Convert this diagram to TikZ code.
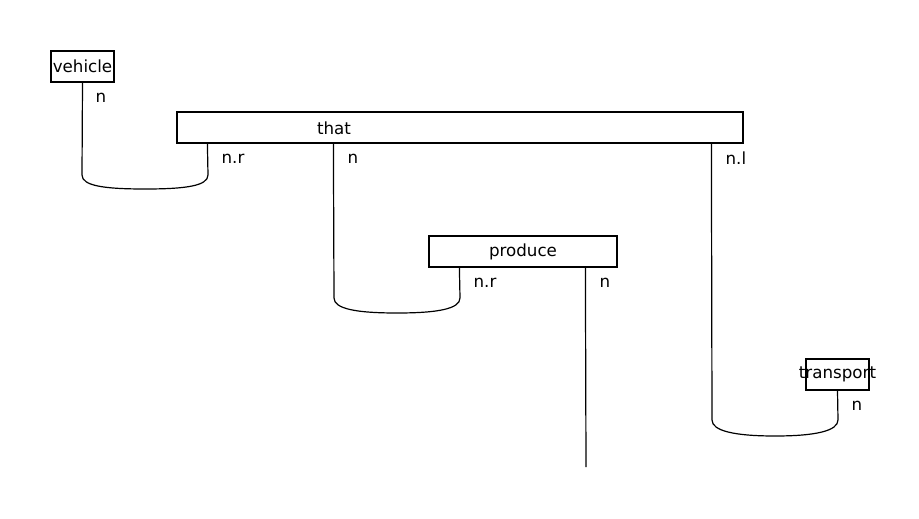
\documentclass[tikz,border=0pt]{standalone}
\usepackage{fontspec}
\setmainfont{DejaVu Sans}
\begin{document}
\begin{tikzpicture}[x=1pt,y=-1pt,line width=1.2pt,
  box/.style={draw,fill=white,inner sep=0pt,minimum height=31pt,font=\fontsize{16.7}{19}\selectfont},
  lbl/.style={anchor=west,inner sep=0pt,font=\fontsize{16.7}{19}\selectfont},
  txt/.style={inner sep=0pt,font=\fontsize{16.7}{19}\selectfont}]
\useasboundingbox (0,0) rectangle (919,519);
% boxes
\node[box,minimum width=63pt] (vehicle) at (82.5,66.5) {\makebox[0pt]{vehicle}};
\node[box,minimum width=566pt] (that) at (460,127.5) {};
\node[txt] (thattxt) at (334,128) {that};
\node[box,minimum width=188pt] (produce) at (523,251.5) {\makebox[0pt]{produce}};
\node[box,minimum width=63pt] (transport) at (837.5,374.5) {\makebox[0pt]{transport}};
\coordinate (out) at (586,467);
% wires
\draw (vehicle.south) -- (82,175) .. controls (82,186) and (105,189) .. (145,189)
  .. controls (185,189) and (208,186) .. (208,175) -- ([xshift=31pt]that.south west);
\draw ([xshift=157pt]that.south west) -- (334,298) .. controls (334,309) and (357,313) .. (397,313)
  .. controls (437,313) and (460,309) .. (460,298) -- ([xshift=31pt]produce.south west);
\draw ([xshift=535pt]that.south west) -- (712,420) .. controls (712,431) and (735,436) .. (775,436)
  .. controls (815,436) and (838,431) .. (838,420) -- (transport.south);
\draw ([xshift=157pt]produce.south west) -- (out);
% labels
\node[lbl] (l1) at (95,97.5) {n};
\node[lbl] (l2) at (221,158.5) {n.r};
\node[lbl] (l3) at (347,158.5) {n};
\node[lbl] (l4) at (725,158.5) {n.l};
\node[lbl] (l5) at (473,282.5) {n.r};
\node[lbl] (l6) at (599,282.5) {n};
\node[lbl] (l7) at (851,405.5) {n};
\end{tikzpicture}
\end{document}
